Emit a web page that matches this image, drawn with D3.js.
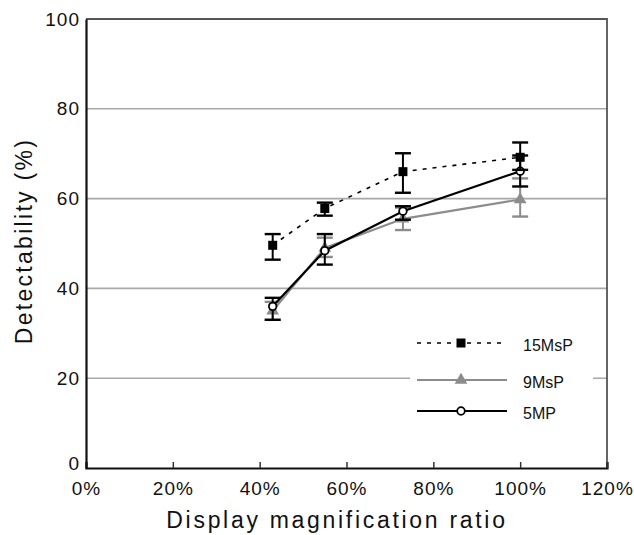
<!DOCTYPE html>
<html><head><meta charset="utf-8">
<script src="https://cdn.jsdelivr.net/npm/d3@7"></script>
<style>body{margin:0;background:#fff}svg{display:block}text{font-family:"Liberation Sans",Arial,sans-serif}</style>
</head><body>
<script>
const xValues = [43, 55, 73, 100];
const seriesNames = ["15MsP", "9MsP", "5MP"];
const s15 = [49.6, 57.8, 66.0, 69.2];
const s15Lo = [46.4, 56.2, 61.3, 66.4];
const s15Hi = [52.1, 59.1, 70.1, 72.5];
const s9 = [35.0, 49.0, 55.5, 59.8];
const s9Lo = [33.0, 47.0, 53.0, 56.0];
const s9Hi = [37.0, 51.3, 58.0, 64.5];
const s5 = [36.0, 48.4, 57.2, 66.1];
const s5Lo = [33.0, 45.3, 55.3, 62.7];
const s5Hi = [37.9, 52.1, 58.3, 69.6];
const xTicks = [0, 20, 40, 60, 80, 100, 120];
const yTicks = [0, 20, 40, 60, 80, 100];

const W = 634, H = 535;
const svg = d3.select("body").append("svg").attr("width", W).attr("height", H);
const x = d3.scaleLinear().domain([0, 120]).range([86, 607]);
const y = d3.scaleLinear().domain([0, 100]).range([468, 19]);

// gridlines
svg.append("g").selectAll("line").data(yTicks.filter(d => d > 0 && d < 100)).join("line")
  .attr("x1", x(0)).attr("x2", x(120)).attr("y1", d => y(d)).attr("y2", d => y(d))
  .attr("stroke", "#a8a8a8").attr("stroke-width", 1.6);

// frame top & right
svg.append("path").attr("d", `M${x(0)},${y(100)}H${x(120)}V${y(0)}`)
  .attr("fill", "none").attr("stroke", "#555").attr("stroke-width", 1.8);

// axes
const xAxis = d3.axisBottom(x).tickValues(xTicks).tickSize(-6).tickPadding(14).tickFormat(d => d + "%");
const gx = svg.append("g").attr("transform", `translate(0,${y(0)})`).call(xAxis);
gx.select(".domain").attr("stroke", "#111").attr("stroke-width", 2.2);
gx.selectAll(".tick line").attr("stroke", "#333").attr("stroke-width", 1.5);
gx.selectAll("text").attr("font-size", 19).attr("fill", "#111").attr("letter-spacing", 1);

const yAxis = d3.axisLeft(y).tickValues(yTicks).tickSize(0).tickPadding(6);
const gy = svg.append("g").attr("transform", `translate(${x(0)},0)`).call(yAxis);
gy.select(".domain").attr("stroke", "#111").attr("stroke-width", 2.2);
gy.selectAll("text").attr("font-size", 19).attr("fill", "#111").attr("letter-spacing", 1);
gy.selectAll(".tick").filter(d => d === 0).select("text").attr("dy", "0.1em");

// titles
svg.append("text").attr("x", 337).attr("y", 528).attr("text-anchor", "middle")
  .attr("font-size", 23).attr("letter-spacing", 2.7).attr("fill", "#111").text("Display magnification ratio");
svg.append("text").attr("transform", `translate(32,241) rotate(-90)`).attr("text-anchor", "middle")
  .attr("font-size", 23).attr("letter-spacing", 2.3).attr("fill", "#111").text("Detectability (%)");

const series = [
  {name: seriesNames[0], v: s15, lo: s15Lo, hi: s15Hi, color: "#000", dash: "4,6", width: 1.6, marker: "square"},
  {name: seriesNames[1], v: s9, lo: s9Lo, hi: s9Hi, color: "#8c8c8c", dash: null, width: 2.2, marker: "triangle"},
  {name: seriesNames[2], v: s5, lo: s5Lo, hi: s5Hi, color: "#000", dash: null, width: 2.2, marker: "circle"}
];

function drawMarker(g, type, cx, cy, color) {
  if (type === "square") g.append("rect").attr("x", cx - 4.5).attr("y", cy - 4.5).attr("width", 9).attr("height", 9).attr("fill", "#000");
  else if (type === "triangle") g.append("path").attr("d", d3.symbol(d3.symbolTriangle, 70)()).attr("transform", `translate(${cx},${cy})`).attr("fill", color);
  else g.append("circle").attr("cx", cx).attr("cy", cy).attr("r", 3.8).attr("fill", "#fff").attr("stroke", "#000").attr("stroke-width", 1.8);
}

const order = [1, 2, 0];
order.forEach(i => {
  const s = series[i];
  const g = svg.append("g");
  xValues.forEach((xv, j) => {
    g.append("line").attr("x1", x(xv)).attr("x2", x(xv)).attr("y1", y(s.lo[j])).attr("y2", y(s.hi[j]))
      .attr("stroke", s.color).attr("stroke-width", 2);
    [s.lo[j], s.hi[j]].forEach(v => g.append("line").attr("x1", x(xv) - 8).attr("x2", x(xv) + 8)
      .attr("y1", y(v)).attr("y2", y(v)).attr("stroke", s.color).attr("stroke-width", 2.4));
  });
  const line = d3.line().x((d, j) => x(xValues[j])).y(d => y(d));
  g.append("path").attr("d", line(s.v)).attr("fill", "none").attr("stroke", s.color)
    .attr("stroke-width", s.width).attr("stroke-dasharray", s.dash);
  s.v.forEach((v, j) => drawMarker(g, s.marker, x(xValues[j]), y(v), s.color));
});

// legend
const lg = svg.append("g");
lg.append("rect").attr("x", 410).attr("y", 328).attr("width", 183).attr("height", 98).attr("fill", "#fff");
const rowsY = [343, 380, 411];
series.forEach((s, i) => {
  const ly = rowsY[i];
  lg.append("line").attr("x1", 417).attr("x2", 507).attr("y1", ly).attr("y2", ly)
    .attr("stroke", s.color).attr("stroke-width", s.width).attr("stroke-dasharray", s.dash);
  drawMarker(lg, s.marker, 461, ly, s.color);
  lg.append("text").attr("x", 523).attr("y", ly + 8).attr("font-size", 16).attr("fill", "#111").text(s.name);
});
</script>
</body></html>
